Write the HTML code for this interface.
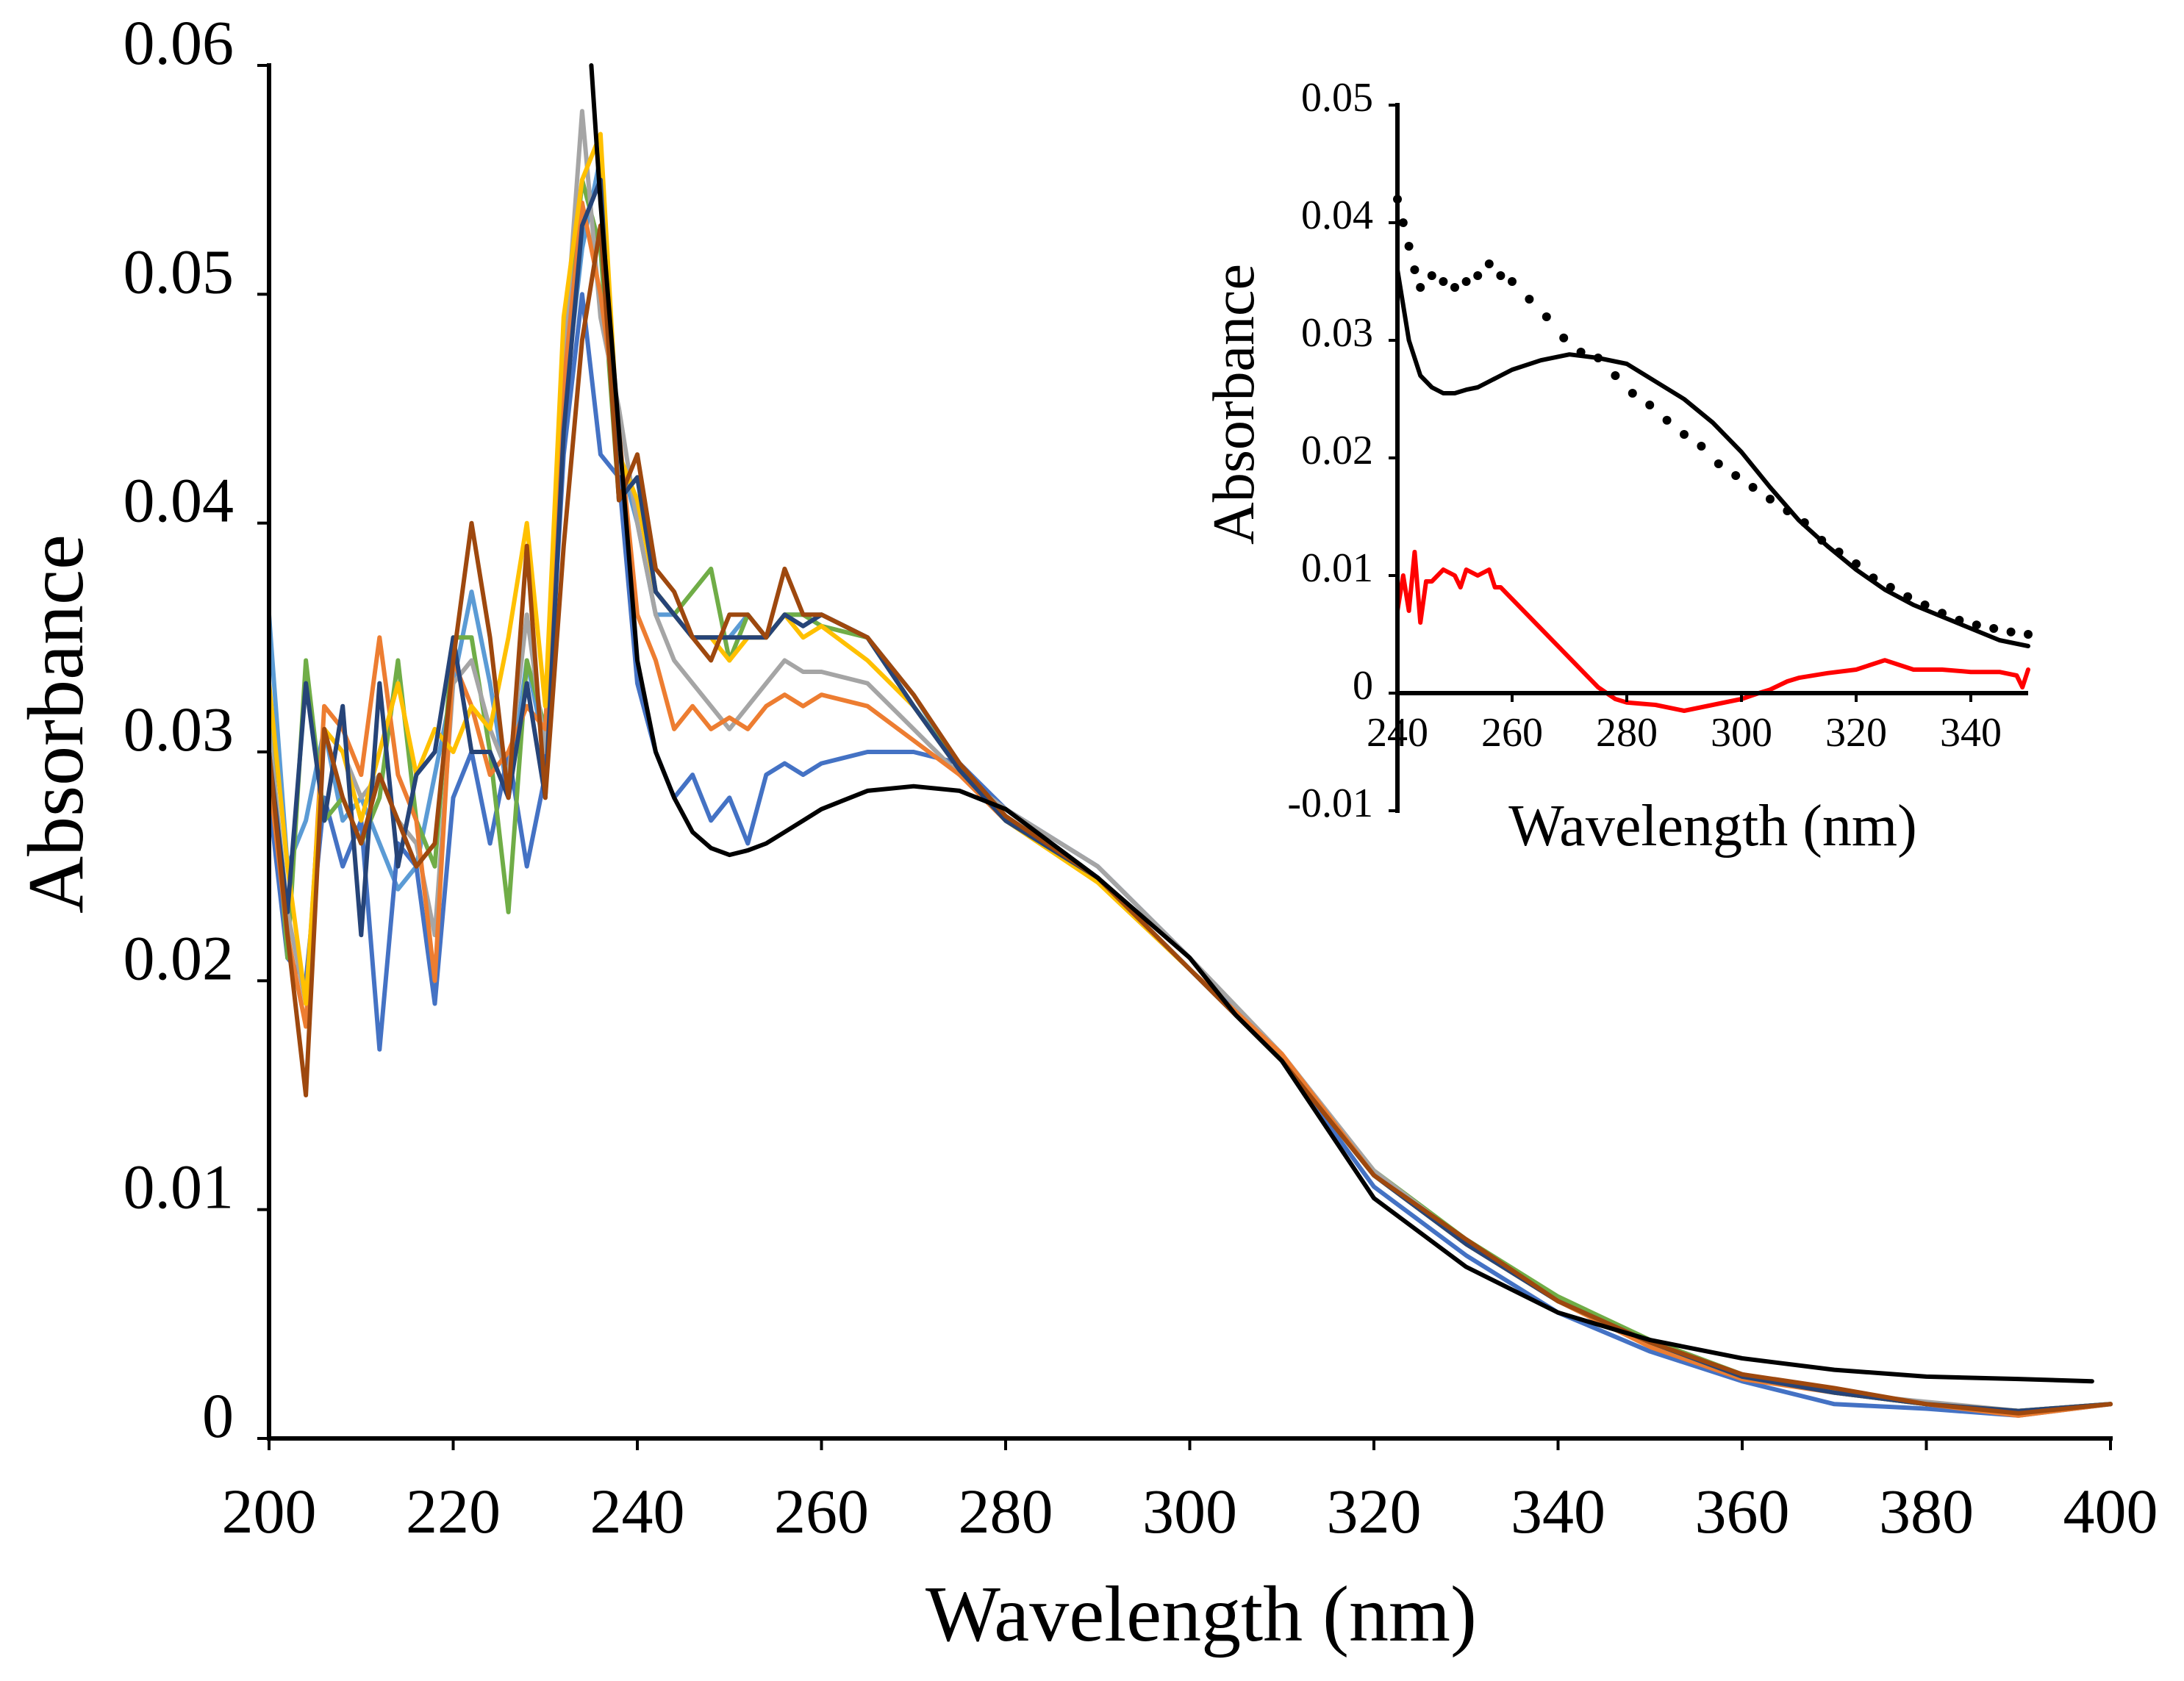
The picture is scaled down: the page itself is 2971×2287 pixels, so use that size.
<!DOCTYPE html>
<html><head><meta charset="utf-8"><style>
html,body{margin:0;padding:0;background:#fff;}
svg{display:block;font-family:"Liberation Serif",serif;}
</style></head><body>
<svg id="chart" width="2971" height="2287" viewBox="0 0 2971 2287" xmlns="http://www.w3.org/2000/svg">
<g id="main"></g>
<g id="inset"></g>
</svg>
<script>
// ---------- main chart data ----------
const mainWl = [200,202,204,206,208,210,212,214,216,218,220,222,224,226,228,230,232,234,236,238,240,242,244,246,248,250,252,254,256,258,260,265,270,275,280,290,300,310,320,330,340,350,360,370,380,390,400];
const brownVals = [0.030,0.022,0.015,0.031,0.028,0.026,0.029,0.027,0.025,0.026,0.034,0.040,0.035,0.028,0.039,0.028,0.039,0.048,0.053,0.041,0.043,0.038,0.037,0.035,0.034,0.036,0.036,0.035,0.038,0.036,0.036,0.035,0.0325,0.0295,0.0272,0.0245,0.0205,0.0165,0.0115,0.0087,0.006,0.0042,0.0028,0.0022,0.0015,0.0011,0.0015];
const yellowVals = [0.033,0.025,0.019,0.031,0.030,0.027,0.030,0.033,0.029,0.031,0.030,0.032,0.031,0.035,0.040,0.032,0.049,0.055,0.057,0.043,0.041,0.037,0.036,0.035,0.035,0.034,0.035,0.035,0.036,0.035,0.0355,0.034,0.032,0.0292,0.027,0.0243,0.0205,0.0165,0.0115,0.0085,0.006,0.0042,0.0027,0.002,0.0015,0.0012,0.0015];
const grayVals = [0.031,0.023,0.019,0.031,0.030,0.028,0.029,0.027,0.026,0.022,0.033,0.034,0.031,0.029,0.036,0.030,0.047,0.058,0.049,0.045,0.040,0.036,0.034,0.033,0.032,0.031,0.032,0.033,0.034,0.0335,0.0335,0.033,0.031,0.029,0.0275,0.025,0.021,0.0168,0.0117,0.0086,0.006,0.0042,0.0028,0.002,0.0016,0.0012,0.0015];
const orangeVals = [0.029,0.022,0.018,0.032,0.031,0.029,0.035,0.029,0.027,0.020,0.034,0.032,0.029,0.030,0.032,0.031,0.046,0.054,0.050,0.044,0.036,0.034,0.031,0.032,0.031,0.0315,0.031,0.032,0.0325,0.032,0.0325,0.032,0.0305,0.029,0.027,0.0245,0.0205,0.0168,0.0115,0.0085,0.006,0.004,0.0026,0.002,0.0015,0.001,0.0015];
const blueVals = [0.028,0.021,0.020,0.028,0.025,0.027,0.017,0.026,0.025,0.019,0.028,0.030,0.026,0.030,0.025,0.029,0.043,0.050,0.043,0.042,0.033,0.030,0.028,0.029,0.027,0.028,0.026,0.029,0.0295,0.029,0.0295,0.030,0.030,0.0295,0.0275,0.025,0.021,0.0165,0.011,0.008,0.0055,0.0038,0.0025,0.0015,0.0013,0.001,0.0015];
const lightBlueVals = [0.036,0.025,0.027,0.031,0.027,0.028,0.026,0.024,0.025,0.029,0.033,0.037,0.033,0.028,0.034,0.030,0.045,0.052,0.056,0.043,0.040,0.036,0.036,0.035,0.035,0.035,0.036,0.035,0.036,0.036,0.036,0.035,0.0325,0.0293,0.027,0.0245,0.0205,0.0165,0.0115,0.0085,0.006,0.0042,0.0027,0.002,0.0015,0.0012,0.0015];
const greenVals = [0.032,0.021,0.034,0.027,0.028,0.026,0.028,0.034,0.027,0.025,0.035,0.035,0.030,0.023,0.034,0.031,0.046,0.055,0.052,0.041,0.042,0.037,0.036,0.037,0.038,0.034,0.036,0.035,0.036,0.036,0.0355,0.035,0.032,0.0293,0.027,0.0245,0.0205,0.0167,0.0117,0.0087,0.0062,0.0043,0.0028,0.002,0.0015,0.0012,0.0015];
const navyVals = [0.030,0.023,0.033,0.027,0.032,0.022,0.033,0.025,0.029,0.030,0.035,0.030,0.030,0.028,0.033,0.028,0.044,0.053,0.055,0.041,0.042,0.037,0.036,0.035,0.035,0.035,0.035,0.035,0.036,0.0355,0.036,0.035,0.032,0.0292,0.027,0.0245,0.0205,0.0165,0.0115,0.0085,0.006,0.0042,0.0027,0.002,0.0015,0.0012,0.0015];
const blackWl = [235,236,238,240,242,244,246,248,250,252,254,256,258,260,265,270,275,280,290,300,305,310,315,320,330,340,350,360,370,380,390,398];
const blackVals = [0.060,0.054,0.044,0.034,0.030,0.028,0.0265,0.0258,0.0255,0.0257,0.026,0.0265,0.027,0.0275,0.0283,0.0285,0.0283,0.0275,0.0245,0.021,0.0185,0.0165,0.0135,0.0105,0.0075,0.0055,0.0043,0.0035,0.003,0.0027,0.0026,0.0025];
const mainXTicks = [200,220,240,260,280,300,320,340,360,380,400];
const mainYTicks = [0,0.01,0.02,0.03,0.04,0.05,0.06];
const mainYLabels = ["0","0.01","0.02","0.03","0.04","0.05","0.06"];

// ---------- inset data ----------
const insetSolidWl = [240,242,244,246,248,250,252,254,256,258,260,265,270,275,280,285,290,295,300,305,310,315,320,325,330,335,340,345,350];
const insetSolidVals = [0.036,0.030,0.027,0.026,0.0255,0.0255,0.0258,0.026,0.0265,0.027,0.0275,0.0283,0.0288,0.0285,0.028,0.0265,0.025,0.023,0.0205,0.0175,0.0147,0.0125,0.0105,0.0088,0.0075,0.0065,0.0055,0.0045,0.004];
const insetDotWl = [240,241,242,243,244,246,248,250,252,254,256,258,260,263,266,269,272,275,278,281,284,287,290,293,296,299,302,305,308,311,314,317,320,323,326,329,332,335,338,341,344,347,350];
const insetDotVals = [0.042,0.040,0.038,0.036,0.0345,0.0355,0.035,0.0345,0.035,0.0355,0.0365,0.0355,0.035,0.0335,0.032,0.0302,0.029,0.0285,0.027,0.0255,0.0245,0.0232,0.022,0.021,0.0195,0.0185,0.0175,0.0165,0.0155,0.0145,0.013,0.012,0.011,0.0098,0.009,0.0082,0.0075,0.0068,0.0062,0.0058,0.0055,0.0052,0.005];
const insetRedWl = [240,241,242,243,244,245,246,248,250,251,252,254,256,257,258,260,265,270,275,278,280,285,290,295,300,303,305,308,310,315,320,325,330,335,340,345,348,349,350];
const insetRedVals = [0.007,0.010,0.007,0.012,0.006,0.0095,0.0095,0.0105,0.010,0.009,0.0105,0.010,0.0105,0.009,0.009,0.008,0.0055,0.003,0.0005,-0.0005,-0.0008,-0.001,-0.0015,-0.001,-0.0005,0,0.0003,0.001,0.0013,0.0017,0.002,0.0028,0.002,0.002,0.0018,0.0018,0.0015,0.0005,0.002];
const insetXTicks = [240,260,280,300,320,340];
const insetYTicks = [-0.01,0,0.01,0.02,0.03,0.04,0.05];
const insetYLabels = ["-0.01","0","0.01","0.02","0.03","0.04","0.05"];

const NS = "http://www.w3.org/2000/svg";
function mk(tag, attrs, parent){const e=document.createElementNS(NS,tag);for(const k in attrs)e.setAttribute(k,attrs[k]);parent.appendChild(e);return e;}

// main axes
const mx = w => 366 + (w-200)*(2871-366)/200;
const my = v => 1957 - v*(1957-89)/0.06;
const gm = document.getElementById('main');

function line(parent, wl, vals, xf, yf, color, width, name, dash){
  const pts = wl.map((w,i)=>xf(w).toFixed(1)+','+yf(vals[i]).toFixed(1)).join(' ');
  const p = mk('polyline',{points:pts,fill:'none',stroke:color,'stroke-width':width,'stroke-linejoin':'round','stroke-linecap':'round'},parent);
  
  
  return p;
}
const series = [
  [lightBlueVals,'#5b9bd5','series-light-blue'],
  [blueVals,'#4472c4','series-blue'],
  [greenVals,'#70ad47','series-green'],
  [grayVals,'#a5a5a5','series-gray'],
  [orangeVals,'#ed7d31','series-orange'],
  [yellowVals,'#ffc000','series-yellow'],
  [navyVals,'#264478','series-navy'],
  [brownVals,'#9e480e','series-brown']
];
series.forEach(s=>line(gm, mainWl, s[0], mx, my, s[1], 6, s[2]));
line(gm, blackWl, blackVals, mx, my, '#000', 6, 'series-black');

// main axis lines
let a = mk('line',{x1:366,y1:86,x2:366,y2:1960,stroke:'#000','stroke-width':6},gm);
 
a = mk('line',{x1:363,y1:1957,x2:2874,y2:1957,stroke:'#000','stroke-width':6},gm);
 
mainYTicks.forEach((v,i)=>{
  const t = mk('line',{x1:350,y1:my(v),x2:366,y2:my(v),stroke:'#000','stroke-width':4},gm);
   
  const l = mk('text',{x:318,y:my(v)-2,'text-anchor':'end','font-size':86},gm);
  l.textContent = mainYLabels[i];
   
});
mainXTicks.forEach(w=>{
  const t = mk('line',{x1:mx(w),y1:1957,x2:mx(w),y2:1973,stroke:'#000','stroke-width':4},gm);
   
  const l = mk('text',{x:mx(w),y:2085,'text-anchor':'middle','font-size':86},gm);
  l.textContent = String(w);
   
});
let tt = mk('text',{x:1634,y:2232,'text-anchor':'middle','font-size':108},gm);
tt.textContent = 'Wavelength (nm)';
 
tt = mk('text',{x:0,y:0,'text-anchor':'middle','font-size':108,transform:'translate(112,985) rotate(-90)'},gm);
tt.textContent = 'Absorbance';
 

// inset
const ix = w => 1901 + (w-240)*156/20;
const iy = v => 943 - v*16000;
const gi = document.getElementById('inset');
line(gi, insetSolidWl, insetSolidVals, ix, iy, '#000', 6, 'inset-solid-black');
line(gi, insetRedWl, insetRedVals, ix, iy, '#ff0000', 6, 'inset-red');
insetDotWl.forEach((w,i)=>{
  const c = mk('circle',{cx:ix(w),cy:iy(insetDotVals[i]),r:6,fill:'#000'},gi);
   
});
a = mk('line',{x1:1901,y1:iy(0.05)-3,x2:1901,y2:iy(-0.01)+3,stroke:'#000','stroke-width':6},gi);
 
a = mk('line',{x1:1898,y1:iy(0),x2:ix(350),y2:iy(0),stroke:'#000','stroke-width':6},gi);
 
insetYTicks.forEach((v,i)=>{
  const t = mk('line',{x1:1889,y1:iy(v),x2:1901,y2:iy(v),stroke:'#000','stroke-width':4},gi);
   
  const l = mk('text',{x:1868,y:iy(v)+8,'text-anchor':'end','font-size':56},gi);
  l.textContent = insetYLabels[i];
   
});
insetXTicks.forEach(w=>{
  const t = mk('line',{x1:ix(w),y1:iy(0),x2:ix(w),y2:iy(0)+12,stroke:'#000','stroke-width':4},gi);
   
  const l = mk('text',{x:ix(w),y:1015,'text-anchor':'middle','font-size':56},gi);
  l.textContent = String(w);
   
});
tt = mk('text',{x:2330,y:1150,'text-anchor':'middle','font-size':80},gi);
tt.textContent = 'Wavelength (nm)';
 
tt = mk('text',{x:0,y:0,'text-anchor':'middle','font-size':80,transform:'translate(1705,550) rotate(-90)'},gi);
tt.textContent = 'Absorbance';
 
</script>
</body></html>
